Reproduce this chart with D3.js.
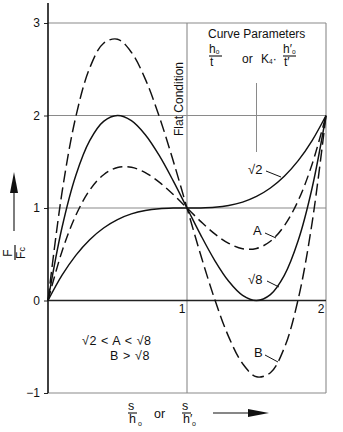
<!DOCTYPE html>
<html><head><meta charset="utf-8">
<script src="https://cdn.jsdelivr.net/npm/d3@7"></script>
<style>
html,body{margin:0;padding:0;background:#fff;}
svg{display:block;font-family:"Liberation Sans",Arial,sans-serif;}
</style></head>
<body>
<svg id="c" width="343" height="432"></svg>
<script>
// s/h0 sample positions
const xs = [0,0.1,0.2,0.3,0.4,0.5,0.6,0.7,0.8,0.9,1.0,1.1,1.2,1.3,1.4,1.5,1.6,1.7,1.8,1.9,2.0];
// F/Fc values
const curveSqrt2 = [0,0.271,0.488,0.657,0.784,0.875,0.936,0.973,0.992,0.999,1,1.001,1.008,1.027,1.064,1.125,1.216,1.343,1.512,1.729,2];
const curveA     = [0,0.528,0.92,1.193,1.36,1.438,1.44,1.383,1.28,1.148,1,0.853,0.72,0.618,0.56,0.563,0.64,0.808,1.08,1.473,2];
const curveSqrt8 = [0,0.784,1.352,1.728,1.936,2,1.944,1.792,1.568,1.296,1,0.704,0.432,0.208,0.056,0,0.064,0.272,0.648,1.216,2];
const curveB     = [0,1.16,1.986,2.513,2.781,2.825,2.683,2.393,1.99,1.514,1,0.486,0.01,-0.393,-0.683,-0.825,-0.781,-0.513,0.014,0.84,2];
const yTicks = [-1,0,1,2,3];
const xTicks = [1,2];

const svg = d3.select("#c");
const x = d3.scaleLinear().domain([0,2]).range([48,326]);
const y = d3.scaleLinear().domain([-1,3]).range([393,23]);
const grey = "#8a8a8a";
const ink = "#111";

// grid
svg.append("g").selectAll("line").data([1,2,3,-1]).join("line")
  .attr("x1",x(0)).attr("x2",x(2)).attr("y1",d=>y(d)).attr("y2",d=>y(d))
  .attr("stroke",grey).attr("stroke-width",1.1);
svg.append("g").selectAll("line").data(xTicks).join("line")
  .attr("x1",d=>x(d)).attr("x2",d=>x(d)).attr("y1",y(3)).attr("y2",y(-1))
  .attr("stroke",grey).attr("stroke-width",1.1);
// short vertical from parameter box
svg.append("line").attr("x1",x(1.5)).attr("x2",x(1.5)).attr("y1",83).attr("y2",152)
  .attr("stroke",grey).attr("stroke-width",1);

// y axis
const ya = svg.append("g").attr("transform",`translate(${x(0)},0)`)
  .call(d3.axisLeft(y).tickValues(yTicks).tickSize(4).tickFormat(d=>d<0?"\u2212"+Math.abs(d):d));
ya.select(".domain").remove();
ya.selectAll("line").attr("stroke","#222");
ya.selectAll("text").attr("font-size",12).attr("font-family","Liberation Sans, Arial, sans-serif").attr("fill",ink).attr("x",-8);
svg.append("line").attr("x1",x(0)).attr("x2",x(0)).attr("y1",3).attr("y2",y(-1))
  .attr("stroke",ink).attr("stroke-width",1.6);
// zero line
svg.append("line").attr("x1",x(0)).attr("x2",x(2)).attr("y1",y(0)).attr("y2",y(0))
  .attr("stroke","#222").attr("stroke-width",1.4);

// x axis tick labels
const xa = svg.append("g").attr("transform",`translate(0,${y(0)})`)
  .call(d3.axisBottom(x).tickValues(xTicks).tickSize(0).tickFormat(d3.format("d")));
xa.select(".domain").remove();
xa.selectAll("text").attr("font-size",12).attr("font-family","Liberation Sans, Arial, sans-serif")
  .attr("fill",ink).attr("text-anchor","end").attr("dx",-2).attr("dy","0.75em").attr("y",3);

// curves
const line = d3.line().x((d,i)=>x(xs[i])).y(d=>y(d)).curve(d3.curveCatmullRom.alpha(0.5));
const series = [
  {v:curveSqrt2, dash:null},
  {v:curveA, dash:"10,5"},
  {v:curveSqrt8, dash:null},
  {v:curveB, dash:"12,5"}
];
svg.append("g").selectAll("path").data(series).join("path")
  .attr("d",d=>line(d.v)).attr("fill","none").attr("stroke",ink).attr("stroke-width",1.45)
  .attr("stroke-dasharray",d=>d.dash);

// curve labels with leaders
const labs = [
  {t:"\u221A2", x:248, y:174, l:[266,171,281,177]},
  {t:"A", x:253, y:235, l:[265,233,276,238]},
  {t:"\u221A8", x:248, y:284, l:[267,281,279,287]},
  {t:"B", x:254, y:357, l:[265,355,278,362]}
];
labs.forEach(d=>{
  svg.append("text").attr("x",d.x).attr("y",d.y).attr("font-size",13).attr("fill",ink).text(d.t);
  svg.append("line").attr("x1",d.l[0]).attr("y1",d.l[1]).attr("x2",d.l[2]).attr("y2",d.l[3])
    .attr("stroke",ink).attr("stroke-width",1);
});

// Flat Condition
svg.append("text").attr("transform","translate(183,99) rotate(-90)").attr("text-anchor","middle")
  .attr("font-size",12).attr("fill",ink).text("Flat Condition");

// Curve Parameters block
svg.append("text").attr("x",208).attr("y",38).attr("font-size",12).attr("fill",ink).text("Curve Parameters");
function frac(cx, num, sub, den, yb, fs){
  const g = svg.append("g");
  const t = g.append("text").attr("x",cx).attr("y",yb).attr("font-size",fs).attr("fill",ink);
  t.append("tspan").text(num);
  if(sub) t.append("tspan").attr("font-size",fs*0.55).attr("dy",1).text(sub);
  g.append("line").attr("x1",cx).attr("x2",cx+ (sub?13:9)).attr("y1",yb+3).attr("y2",yb+3).attr("stroke",ink).attr("stroke-width",1.1);
  g.append("text").attr("x",cx+1).attr("y",yb+13).attr("font-size",fs).attr("fill",ink).text(den);
  return g;
}
frac(209,"h","o","t",53,12);
svg.append("text").attr("x",242).attr("y",63).attr("font-size",12).attr("fill",ink).text("or");
const k = svg.append("text").attr("x",261).attr("y",63).attr("font-size",12).attr("fill",ink);
k.append("tspan").text("K");
k.append("tspan").attr("font-size",6.5).attr("dy",1).text("4");
k.append("tspan").attr("dy",-1).text("\u00B7");
frac(283,"h\u2032","o","t\u2032",53,12);

// y label
const yl = svg.append("g").attr("transform","translate(15,253) rotate(-90)");
yl.append("text").attr("x",0).attr("y",-3).attr("text-anchor","middle").attr("font-size",12).attr("fill",ink).text("F");
yl.append("line").attr("x1",-7).attr("x2",8).attr("y1",0).attr("y2",0).attr("stroke",ink).attr("stroke-width",1.2);
const fc = yl.append("text").attr("x",0).attr("y",10).attr("text-anchor","middle").attr("font-size",12).attr("fill",ink);
fc.append("tspan").text("F"); fc.append("tspan").attr("font-size",9).text("c");
svg.append("line").attr("x1",14).attr("x2",14).attr("y1",231).attr("y2",190).attr("stroke",ink).attr("stroke-width",1.1);
svg.append("path").attr("d","M14,172 L10,193 L18,193 Z").attr("fill",ink);

// x label
frac(128,"s","","h",410,12.5);
svg.append("text").attr("x",128+10).attr("y",426).attr("font-size",7).attr("fill",ink).text("o");
svg.append("text").attr("x",154).attr("y",418).attr("font-size",12.5).attr("fill",ink).text("or");
frac(182,"s","","h\u2032",410,12.5);
svg.append("text").attr("x",182+10).attr("y",426).attr("font-size",7).attr("fill",ink).text("o");
svg.append("line").attr("x1",213).attr("x2",252).attr("y1",413).attr("y2",413).attr("stroke",ink).attr("stroke-width",1.1);
svg.append("path").attr("d","M269,413 L248,409 L248,417 Z").attr("fill",ink);

// inequality note
svg.append("text").attr("x",82).attr("y",345).attr("font-size",12.5).attr("letter-spacing",0.6).attr("fill",ink).text("\u221A2 < A < \u221A8");
svg.append("text").attr("x",110).attr("y",360).attr("font-size",12.5).attr("letter-spacing",0.6).attr("fill",ink).text("B > \u221A8");
</script>
</body></html>
